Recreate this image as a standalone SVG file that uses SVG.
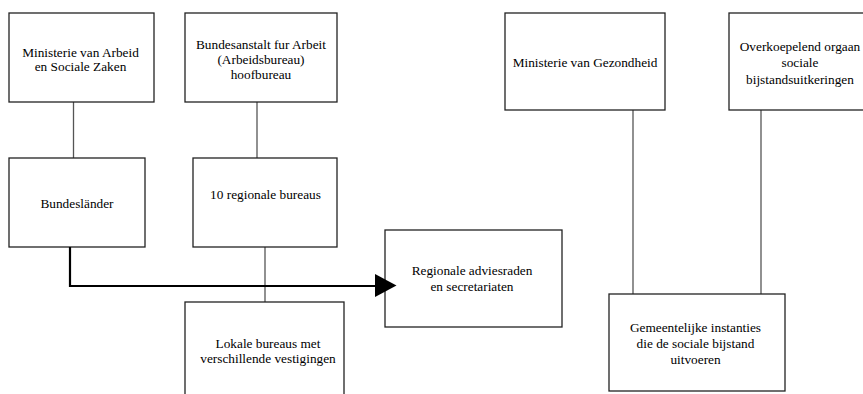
<svg xmlns="http://www.w3.org/2000/svg" width="863" height="394" viewBox="0 0 863 394">
<style>
.box{fill:#fff;stroke:#222;stroke-width:1.3}
.t{font-family:"Liberation Serif","Times New Roman",serif;font-size:13.3px;fill:#000;text-anchor:middle}
.ln{stroke:#555;stroke-width:1.3;fill:none}
.thick{stroke:#000;stroke-width:2.2;fill:none}
</style>
<rect width="863" height="394" fill="#fff"/>
<g id="connectors">
<line class="ln" x1="73.5" y1="102" x2="73.5" y2="158"/>
<line class="ln" x1="257" y1="102" x2="257" y2="158"/>
<line class="ln" x1="265" y1="247" x2="265" y2="302"/>
<line class="ln" x1="633" y1="110" x2="633" y2="294"/>
<line class="ln" x1="761" y1="110" x2="761" y2="294"/>
</g>
<g id="n1"><rect class="box" x="9" y="13" width="145" height="89"/>
<text class="t" x="80.5" y="56.5">Ministerie van Arbeid</text><text class="t" x="80.5" y="71">en Sociale Zaken</text></g>
<g id="n2"><rect class="box" x="185" y="13" width="152" height="89"/>
<text class="t" x="261" y="48.5">Bundesanstalt fur Arbeit</text><text class="t" x="261" y="63.5">(Arbeidsbureau)</text><text class="t" x="261" y="78.5">hoofbureau</text></g>
<g id="n3"><rect class="box" x="9" y="158" width="136" height="89"/>
<text class="t" x="77" y="207.5">Bundesländer</text></g>
<g id="n4"><rect class="box" x="193" y="158" width="144" height="89"/>
<text class="t" x="265.5" y="198.5">10 regionale bureaus</text></g>
<g id="n5"><rect class="box" x="185" y="302" width="159" height="100"/>
<text class="t" x="268" y="348">Lokale bureaus met</text><text class="t" x="268" y="363">verschillende vestigingen</text></g>
<g id="n6"><rect class="box" x="385" y="230" width="177" height="97"/>
<text class="t" x="472" y="275">Regionale adviesraden</text><text class="t" x="472" y="290.5">en secretariaten</text></g>
<g id="n7"><rect class="box" x="609" y="294" width="176" height="97"/>
<text class="t" x="695.5" y="331.5">Gemeentelijke instanties</text><text class="t" x="695.5" y="347.5">die de sociale bijstand</text><text class="t" x="695.5" y="363.5">uitvoeren</text></g>
<g id="n8"><rect class="box" x="505" y="13" width="160" height="97"/>
<text class="t" x="585" y="66.5">Ministerie van Gezondheid</text></g>
<g id="n9"><rect class="box" x="729" y="13" width="142" height="97"/>
<text class="t" x="800" y="50.5">Overkoepelend orgaan</text><text class="t" x="800" y="67">sociale</text><text class="t" x="800" y="83.5">bijstandsuitkeringen</text></g>
<g id="arrow">
<polyline class="thick" points="70,247 70,286 377,286"/>
<polygon points="375,274 396.5,285.5 375,297" fill="#000"/>
</g>
</svg>
